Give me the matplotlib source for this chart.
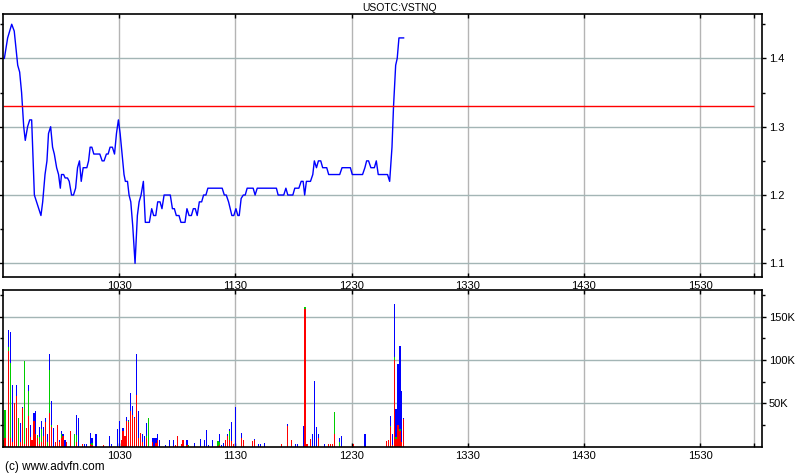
# plot.py
# intraday price and volume chart for USOTC:VSTNQ

import numpy as np
import matplotlib
matplotlib.use('Agg')
import matplotlib.pyplot as plt
from matplotlib.ticker import FuncFormatter

plt.rcParams['font.family'] = ['Liberation Sans', 'DejaVu Sans']

# market open in minutes after midnight (09:30)
open_min = 570

# price trace: minutes after open and last price
price_min = [0, 0.7, 2.4, 4.5, 5.8, 7.6, 8.6, 9.6, 10.7, 11.5, 12.7, 13.8, 14.8, 16.2,
             19.6, 20.5, 21.7, 22.7, 23.5, 24.6, 25.6, 26.5, 27.7, 28.7, 29.6, 30.2,
             31.3, 32.1, 33.3, 34.2, 35.4, 36.4, 37.5, 38.5, 39.5, 40.4, 41.4, 43.3,
             44.2, 45.0, 45.9, 46.9, 50.0, 51.2, 52.2, 53.4, 54.3, 55.3, 56.5, 57.6,
             58.6, 59.6, 60.5, 61.5, 62.5, 63.2, 64.3, 65.1, 66.0, 67.0, 68.2, 69.4,
             70.3, 71.3, 72.5, 73.5, 75.6, 76.8, 77.8, 78.9, 79.9, 81.1, 82.1, 83.2,
             86.4, 87.5, 88.5, 89.5, 90.9, 91.9, 94.0, 95.0, 96.1, 97.3, 98.3, 99.3,
             100.3, 101.4, 102.6, 103.6, 104.8, 105.8, 113.2, 114.3, 115.3, 116.5,
             118.2, 119.2, 120.3, 121.3, 122.0, 123.0, 124.1, 125.1, 126.1, 129.2,
             130.2, 131.3, 141.2, 142.1, 145.0, 146.1, 147.1, 149.7, 150.7, 152.8,
             154.0, 155.0, 155.8, 156.7, 158.8, 160.0, 160.8, 161.9, 162.9, 164.1,
             165.1, 167.2, 168.2, 173.9, 175.1, 179.4, 180.4, 185.7, 186.9, 187.8,
             188.8, 190.0, 191.8, 192.8, 193.8, 198.6, 199.7, 200.9, 201.7, 202.8,
             203.6, 204.5, 206.9]
price_val = [1.40, 1.40, 1.43, 1.45, 1.44, 1.39, 1.38, 1.35, 1.30, 1.28, 1.30, 1.31, 1.31, 1.20,
             1.17, 1.19, 1.23, 1.25, 1.29, 1.30, 1.27, 1.26, 1.24, 1.23, 1.21, 1.23,
             1.23, 1.225, 1.225, 1.22, 1.20, 1.20, 1.21, 1.24, 1.25, 1.22, 1.24, 1.24,
             1.25, 1.27, 1.27, 1.26, 1.26, 1.25, 1.25, 1.26, 1.26, 1.27, 1.27, 1.26,
             1.29, 1.31, 1.29, 1.26, 1.23, 1.22, 1.22, 1.20, 1.19, 1.155, 1.10, 1.17,
             1.19, 1.20, 1.22, 1.16, 1.16, 1.18, 1.17, 1.17, 1.19, 1.19, 1.18, 1.20,
             1.20, 1.18, 1.18, 1.17, 1.17, 1.16, 1.16, 1.18, 1.17, 1.17, 1.18, 1.18,
             1.17, 1.19, 1.19, 1.20, 1.20, 1.21, 1.21, 1.20, 1.20, 1.19,
             1.17, 1.17, 1.18, 1.17, 1.17, 1.195, 1.20, 1.20, 1.21, 1.21,
             1.20, 1.21, 1.21, 1.20, 1.20, 1.21, 1.20, 1.20, 1.21, 1.21,
             1.22, 1.22, 1.20, 1.22, 1.22, 1.23, 1.25, 1.24, 1.25, 1.25,
             1.24, 1.24, 1.23, 1.23, 1.24, 1.24, 1.23, 1.23, 1.24, 1.25,
             1.25, 1.24, 1.24, 1.25, 1.23, 1.23, 1.22, 1.27, 1.33, 1.39,
             1.40, 1.43, 1.43]

# previous close
prev_close = 1.33

# volume per minute (thousands), split into red / green / blue parts
vol_min = [0, 1, 3, 4, 5, 6, 7, 8, 9, 10, 11, 12, 13, 14, 15, 16, 17, 18, 19, 20,
           21, 22, 23, 24, 25, 26, 27, 28, 29, 30, 31, 32, 33, 35, 37, 38, 39, 41,
           42, 43, 45, 46, 48, 52, 55, 56, 59, 60, 61, 62, 63, 64, 65, 66, 67, 68,
           69, 70, 71, 72, 73, 74, 75, 77, 78, 79, 80, 81, 84, 86, 88, 89, 90, 92,
           93, 95, 96, 99, 102, 104, 105, 106, 108, 111, 112, 113, 114, 115, 116,
           117, 118, 119, 120, 123, 124, 129, 130, 132, 133, 135, 144, 147, 149,
           151, 152, 155, 156, 157, 159, 160, 161, 162, 163, 166, 168, 169, 170,
           171, 174, 175, 181, 187, 198, 199, 200, 201, 202, 203, 204, 205, 206, 207]
vol_red = [0, 10, 110, 10, 5, 50, 58, 0, 5, 44, 3, 21, 35, 11, 8, 30, 15, 10, 3, 5,
           12, 28, 0, 39, 22, 0, 5, 25, 5, 10, 12, 0, 5, 18, 0, 5, 0, 3,
           0, 0, 3, 2, 0, 2, 0, 0, 0, 0, 8, 18, 12, 29, 28, 41, 37, 33,
           60, 10, 16, 5, 0, 10, 0, 5, 0, 4, 8, 0, 0, 0, 0, 2, 12, 3,
           7, 2, 0, 0, 0, 0, 0, 0, 0, 1, 2, 0, 0, 7, 12,
           8, 6, 3, 0, 10, 8, 6, 8, 0, 0, 0, 3, 24, 8,
           0, 0, 0, 159, 3, 9, 0, 0, 0, 10, 0, 3, 3, 3,
           15, 0, 0, 3, 0, 6, 7, 23, 2, 100, 9, 25, 18, 5, 32]
vol_green = [7, 32, 5, 87, 0, 0, 0, 33, 0, 0, 96, 0, 29, 0, 0, 0, 0, 3, 8, 15,
             0, 0, 5, 49, 3, 0, 0, 0, 0, 4, 0, 0, 0, 0, 14, 8, 0, 0,
             0, 0, 0, 2, 0, 0, 0, 0, 0, 0, 0, 0, 0, 0, 2, 0, 0, 0,
             0, 0, 0, 0, 0, 2, 33, 0, 0, 0, 0, 0, 0, 0, 0, 0, 0, 0,
             0, 0, 2, 0, 0, 0, 0, 0, 0, 5, 3, 0, 0, 0, 0,
             10, 0, 0, 0, 0, 0, 0, 0, 0, 0, 0, 0, 0, 0,
             0, 0, 0, 2, 0, 0, 0, 0, 0, 0, 0, 0, 0, 0,
             25, 5, 0, 0, 0, 0, 0, 1, 0, 3, 2, 0, 2, 0, 0]
vol_blue = [0, 0, 20, 35, 66, 0, 13, 0, 22, 2, 0, 0, 7, 14, 0, 9, 26, 0, 12, 9,
            11, 5, 9, 19, 28, 21, 0, 0, 3, 4, 3, 7, 0, 0, 0, 23, 33, 0,
            3, 3, 13, 6, 14, 0, 12, 3, 20, 30, 0, 3, 0, 5, 1, 21, 10, 1,
            47, 31, 0, 10, 12, 15, 0, 5, 10, 6, 7, 7, 2, 8, 7, 0, 0, 0,
            0, 5, 0, 4, 9, 8, 19, 2, 7, 0, 10, 2, 4, 0, 2,
            2, 22, 0, 46, 6, 0, 0, 1, 3, 3, 4, 0, 2, 0,
            3, 3, 24, 0, 0, 0, 15, 76, 22, 4, 3, 0, 0, 0,
            0, 5, 12, 0, 15, 0, 0, 11, 13, 62, 32, 70, 96, 59, 1]

# time axis ticks
tick_min = [630, 690, 750, 810, 870, 930]
tick_lab = ['1030', '1130', '1230', '1330', '1430', '1530']
close_line = 958

fig = plt.figure(figsize=(8, 4.75), dpi=100)
ax1 = fig.add_axes([3 / 800, 1 - 277 / 475, 759 / 800, 263 / 475])
ax2 = fig.add_axes([3 / 800, 1 - 446.5 / 475, 759 / 800, 156.5 / 475])

hgrid = '#a3b5b5'
vgrid = '#b4b4b4'

for ax in (ax1, ax2):
    ax.set_xlim(570, 962)
    ax.set_xticks(tick_min + [close_line])
    ax.set_xticklabels(tick_lab + [''])
    ax.tick_params(axis='x', which='both', top=True, bottom=True, direction='in',
                   length=3, width=1, labelsize=8, pad=3)
    ax.yaxis.tick_right()
    ax.tick_params(axis='y', which='both', left=True, right=True, direction='out',
                   labelsize=8, pad=2, width=1)
    ax.tick_params(axis='y', which='major', length=3)
    ax.tick_params(axis='y', which='minor', length=2)
    for sp in ax.spines.values():
        sp.set_linewidth(1.2)
    ax.set_axisbelow(True)
    ax.grid(True, axis='x', color=vgrid, linewidth=1)
    ax.grid(True, axis='y', which='major', color=hgrid, linewidth=1)

# price panel
ax1.set_ylim(1.08, 1.465)
ax1.set_yticks([1.1, 1.2, 1.3, 1.4])
ax1.set_yticks([1.15, 1.25, 1.35, 1.45], minor=True)
ax1.yaxis.set_major_formatter(FuncFormatter(lambda v, p: '%.1f' % v))
ax1.plot(np.array(price_min) + open_min, price_val, color='#0000ff', linewidth=1.0)
ax1.hlines(prev_close, 570, close_line, color='#ff0000', linewidth=1.0)

# volume panel, stacked red / green / blue
vx = np.array(vol_min) + open_min
r = np.array(vol_red) * 1000
g = np.array(vol_green) * 1000
b = np.array(vol_blue) * 1000
ax2.bar(vx, r, width=0.6, color='#ff0000', linewidth=0)
ax2.bar(vx, g, width=0.6, bottom=r, color='#00cc00', linewidth=0)
ax2.bar(vx, b, width=0.6, bottom=r + g, color='#0000ff', linewidth=0)
ax2.set_ylim(0, 181000)
ax2.set_yticks([50000, 100000, 150000])
ax2.set_yticks([25000, 75000, 125000, 175000], minor=True)
ax2.yaxis.set_major_formatter(FuncFormatter(lambda v, p: '%dK' % (v / 1000)))

# title and copyright
fig.text(0.5, 1 - 8 / 475, 'USOTC:VSTNQ', fontsize=7.5, ha='center', va='center')
fig.text(5 / 800, 1 - 467 / 475, '(c) www.advfn.com', fontsize=8.5, va='center', ha='left')

fig.savefig('out.png', dpi=100)
